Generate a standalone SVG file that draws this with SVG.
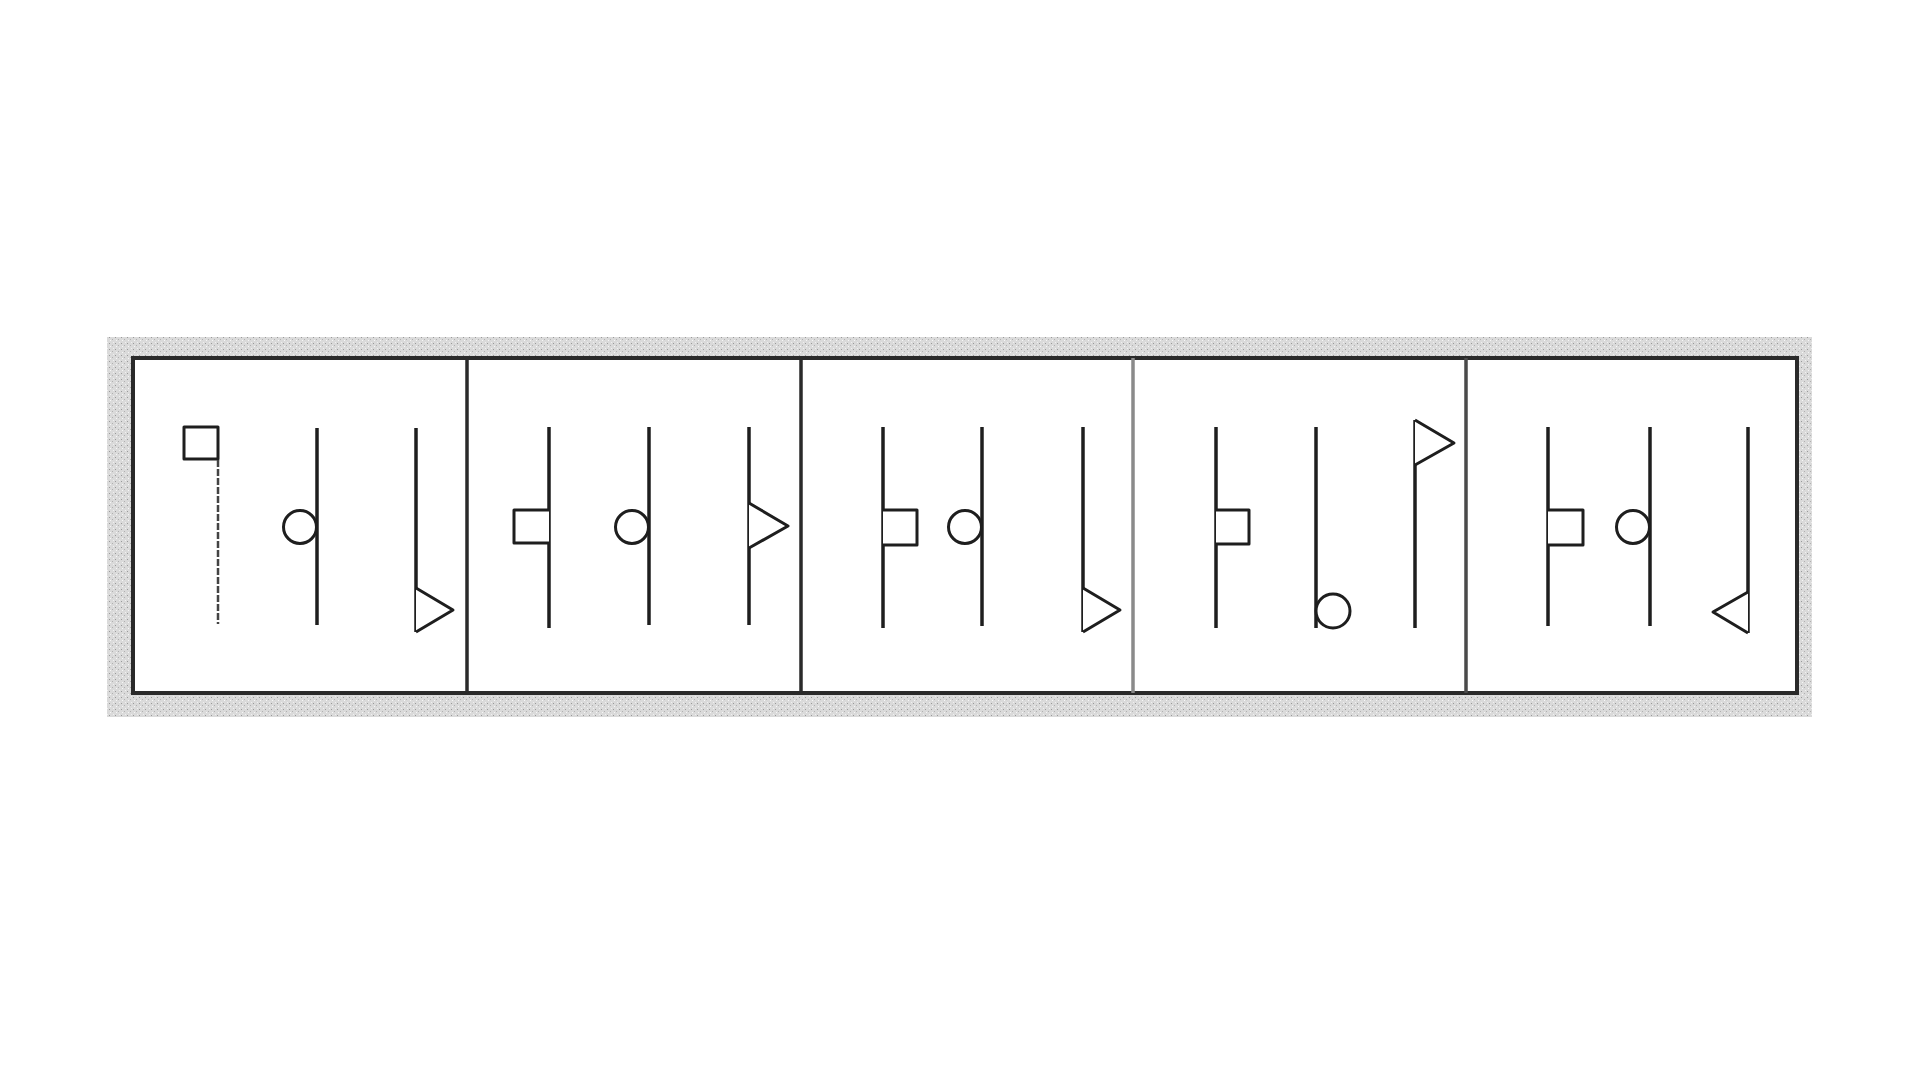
<svg xmlns="http://www.w3.org/2000/svg" width="1920" height="1080" viewBox="0 0 1920 1080">
<defs>
<pattern id="speck" width="6" height="6" patternUnits="userSpaceOnUse">
<rect width="6" height="6" fill="#dadada"/>
<rect x="1" y="1" width="1" height="1" fill="#9a9a9a"/>
<rect x="4" y="3" width="1" height="1" fill="#b0b0b0"/>
<rect x="2" y="4" width="1" height="1" fill="#f6f6f6"/>
<rect x="5" y="0" width="1" height="1" fill="#f0f0f0"/>
</pattern>
</defs>
<style>
.ln{stroke:#1e1e1e;stroke-width:3.5;fill:none;stroke-linecap:butt}
.sh{stroke:#1e1e1e;stroke-width:3;fill:#fff;stroke-linejoin:round}
.thin{stroke:#444;stroke-width:2.5;stroke-dasharray:7 2;fill:none}
</style>
<rect width="1920" height="1080" fill="#fff"/>
<g id="frame">
<rect x="107" y="337" width="1705" height="380" fill="url(#speck)"/>
<rect x="133" y="358" width="1664" height="335" fill="#fff" stroke="#2a2a2a" stroke-width="4"/>
<line x1="467" y1="358" x2="467" y2="693" stroke="#2a2a2a" stroke-width="3.5"/>
<line x1="801" y1="358" x2="801" y2="693" stroke="#2a2a2a" stroke-width="3.5"/>
<line x1="1133" y1="358" x2="1133" y2="693" stroke="#8a8a8a" stroke-width="3.5"/>
<line x1="1466" y1="358" x2="1466" y2="693" stroke="#4a4a4a" stroke-width="3.5"/>
</g>
<g id="panel1">
<rect class="sh" x="184" y="427" width="34" height="32"/>
<line class="thin" x1="218" y1="460" x2="218" y2="624"/>
<line class="ln" x1="317" y1="428" x2="317" y2="625"/>
<circle class="sh" cx="300" cy="527" r="16.5"/>
<line class="ln" x1="416" y1="428" x2="416" y2="632"/>
<path class="sh" d="M416 588 L453 610 L416 632"/>
</g>
<g id="panel2">
<line class="ln" x1="549" y1="427" x2="549" y2="628"/>
<path class="sh" d="M549 510 L514 510 L514 543 L549 543"/>
<line class="ln" x1="649" y1="427" x2="649" y2="625"/>
<circle class="sh" cx="632" cy="527" r="16.5"/>
<line class="ln" x1="749" y1="427" x2="749" y2="625"/>
<path class="sh" d="M749 503 L788 526 L749 548"/>
</g>
<g id="panel3">
<line class="ln" x1="883" y1="427" x2="883" y2="628"/>
<path class="sh" d="M883 510 L917 510 L917 545 L883 545"/>
<line class="ln" x1="982" y1="427" x2="982" y2="626"/>
<circle class="sh" cx="965" cy="527" r="16.5"/>
<line class="ln" x1="1083" y1="427" x2="1083" y2="632"/>
<path class="sh" d="M1083 588 L1120 610 L1083 632"/>
</g>
<g id="panel4">
<line class="ln" x1="1216" y1="427" x2="1216" y2="628"/>
<path class="sh" d="M1216 510 L1249 510 L1249 544 L1216 544"/>
<line class="ln" x1="1316" y1="427" x2="1316" y2="628"/>
<circle class="sh" cx="1333" cy="611" r="17"/>
<line class="ln" x1="1415" y1="420" x2="1415" y2="628"/>
<path class="sh" d="M1415 420 L1454 443 L1415 465"/>
</g>
<g id="panel5">
<line class="ln" x1="1548" y1="427" x2="1548" y2="626"/>
<path class="sh" d="M1548 510 L1583 510 L1583 545 L1548 545"/>
<line class="ln" x1="1650" y1="427" x2="1650" y2="626"/>
<circle class="sh" cx="1633" cy="527" r="16.5"/>
<line class="ln" x1="1748" y1="427" x2="1748" y2="633"/>
<path class="sh" d="M1748 592 L1713 612 L1748 633"/>
</g>
</svg>
